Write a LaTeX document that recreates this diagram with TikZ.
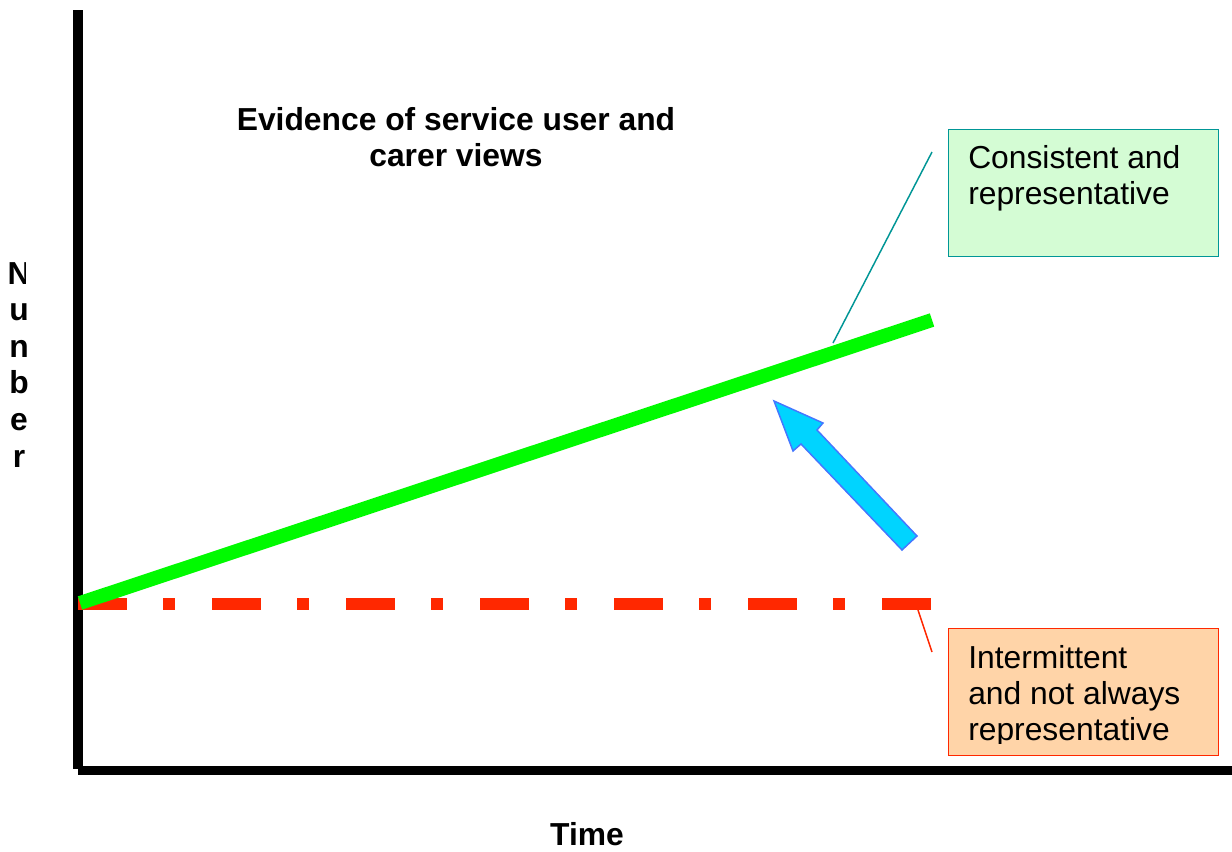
\documentclass[tikz,border=0pt]{standalone}
\usepackage{fontspec}
\setmainfont{Liberation Sans}
\definecolor{trendgreen}{RGB}{0,250,0}
\definecolor{trendred}{RGB}{255,40,0}
\definecolor{calloutteal}{RGB}{0,150,150}
\definecolor{consfill}{RGB}{212,252,212}
\definecolor{intfill}{RGB}{255,212,168}
\definecolor{arrowfill}{RGB}{0,212,255}
\definecolor{arrowline}{RGB}{68,119,255}
\tikzset{
	labeltext/.style={font=\fontsize{23.85}{27}\selectfont, inner sep=0pt, align=left},
	boldtext/.style={font=\bfseries\fontsize{23.85}{27}\selectfont, inner sep=0pt, align=center},
	callbox/.style={draw, line width=1.1pt, minimum width=202.5pt, minimum height=95.25pt, inner sep=0pt}
}
\begin{document}
\begin{tikzpicture}[x=0.75pt,y=-0.75pt]
	\useasboundingbox[fill=white] (0,0) rectangle (1232,851);

	% axes
	\draw[line width=7.5pt] (78,10) -- (78,769);
	\draw[line width=6.75pt] (78,770.5) -- (1232,770.5);

	\node[boldtext, anchor=north] (title) at (456,107) {Evidence of service user and\\carer views};
	\begin{scope}
		\clip (0,250) -- (25,250) -- (25,292) -- (60,292) -- (60,480) -- (0,480) -- cycle;
		\node[boldtext, anchor=north, font=\bfseries\fontsize{23.85}{27.45}\selectfont] (ylabel) at (19,262) {N\\u\\n\\b\\e\\r};
	\end{scope}
	\node[boldtext, anchor=north] (xlabel) at (587,822) {Time};

	% trends
	\draw[trendred, line width=9pt, dash pattern=on 36.75pt off 27pt on 9pt off 27.75pt] (78,604) -- (931,604);
	\draw[trendgreen, line width=10.5pt] (80,603) -- (932,320);

	\draw[fill=arrowfill, draw=arrowline, line width=1.1pt, line join=miter]
		(774,401) -- (823,423) -- (817,430) -- (917,536) -- (902,550) -- (801,444) -- (793,451) -- cycle;

	% callouts
	\node[callbox, draw=calloutteal, fill=consfill, anchor=north west] (cons) at (948,129) {};
	\node[labeltext, anchor=north west] (constext) at ([shift={(20,16)}]cons.north west) {Consistent and\\representative};
	\coordinate (consend) at (932,152);
	\coordinate (consfoot) at (833,343);
	\draw[calloutteal, line width=1.1pt] (consend) -- (consfoot);

	\node[callbox, draw=trendred, fill=intfill, anchor=north west] (inter) at (948,628) {};
	\begin{scope}
		\clip (948,628) rectangle (1218,743);
		\node[labeltext, anchor=north west] (intertext) at ([shift={(20,17)}]inter.north west) {Intermittent\\and not always\\representative};
	\end{scope}
	\coordinate (interend) at (932,652);
	\coordinate (interfoot) at (918,610);
	\draw[trendred, line width=1.1pt] (interfoot) -- (interend);
\end{tikzpicture}
\end{document}
